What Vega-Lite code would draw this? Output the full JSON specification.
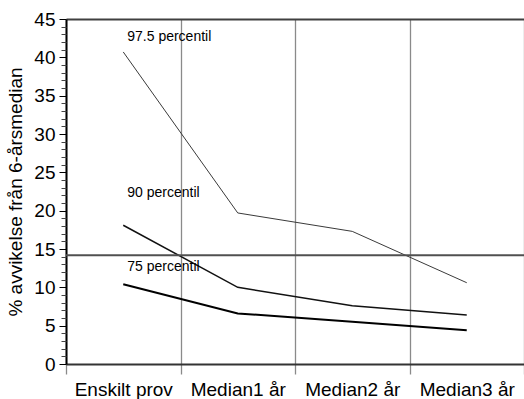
{
  "$schema": "https://vega.github.io/schema/vega-lite/v6.json",
  "width": 458,
  "height": 345,
  "autosize": {"type": "none"},
  "padding": {"left": 66, "top": 19, "right": 0, "bottom": 35},
  "background": "white",
  "config": {
    "font": "Liberation Sans",
    "view": {"stroke": null}
  },
  "datasets": {
    "percentiles": [
      {"serie": "97.5 percentil", "period": "Enskilt prov", "value": 40.7},
      {"serie": "97.5 percentil", "period": "Median1 år", "value": 19.7},
      {"serie": "97.5 percentil", "period": "Median2 år", "value": 17.3},
      {"serie": "97.5 percentil", "period": "Median3 år", "value": 10.6},
      {"serie": "90 percentil", "period": "Enskilt prov", "value": 18.1},
      {"serie": "90 percentil", "period": "Median1 år", "value": 10.0},
      {"serie": "90 percentil", "period": "Median2 år", "value": 7.6},
      {"serie": "90 percentil", "period": "Median3 år", "value": 6.4},
      {"serie": "75 percentil", "period": "Enskilt prov", "value": 10.4},
      {"serie": "75 percentil", "period": "Median1 år", "value": 6.6},
      {"serie": "75 percentil", "period": "Median2 år", "value": 5.5},
      {"serie": "75 percentil", "period": "Median3 år", "value": 4.4}
    ],
    "labels": [
      {"serie": "97.5 percentil", "period": "Enskilt prov", "value": 42.6},
      {"serie": "90 percentil", "period": "Enskilt prov", "value": 22.3},
      {"serie": "75 percentil", "period": "Enskilt prov", "value": 12.6}
    ],
    "limit": [{"value": 14.2}]
  },
  "layer": [
    {
      "data": {"name": "percentiles"},
      "mark": {"type": "line", "color": "black", "strokeJoin": "miter", "strokeCap": "butt"},
      "encoding": {
        "x": {
          "field": "period",
          "type": "nominal",
          "sort": ["Enskilt prov", "Median1 år", "Median2 år", "Median3 år"],
          "bandPosition": 0.5,
          "scale": {"type": "band", "paddingInner": 0, "paddingOuter": 0},
          "axis": {
            "orient": "bottom",
            "title": null,
            "tickBand": "extent",
            "grid": true,
            "gridColor": "#8a8a8a",
            "gridWidth": 1.3,
            "ticks": true,
            "tickColor": "#8a8a8a",
            "tickWidth": 1.3,
            "tickSize": 10,
            "domainColor": "#333333",
            "domainWidth": 2,
            "labelFont": "Liberation Sans",
            "labelFontSize": 19,
            "labelColor": "black",
            "labelPadding": 6,
            "labelAngle": 0
          }
        },
        "y": {
          "field": "value",
          "type": "quantitative",
          "scale": {"domain": [0, 45], "nice": false, "zero": true},
          "axis": {
            "title": "% avvikelse från 6-årsmedian",
            "titleFont": "Liberation Sans",
            "titleFontSize": 19,
            "titleFontWeight": "normal",
            "titleColor": "black",
            "titlePadding": 8,
            "values": [0, 5, 10, 15, 20, 25, 30, 35, 40, 45],
            "grid": false,
            "tickSize": 7,
            "tickColor": "black",
            "tickWidth": 1,
            "domainColor": "black",
            "domainWidth": 2,
            "labelFont": "Liberation Sans",
            "labelFontSize": 19,
            "labelColor": "black",
            "labelPadding": 4
          }
        },
        "detail": {"field": "serie"},
        "strokeWidth": {
          "field": "serie",
          "type": "nominal",
          "scale": {"domain": ["97.5 percentil", "90 percentil", "75 percentil"], "range": [1, 2, 4.5]},
          "legend": null
        },
        "color": {
          "field": "serie",
          "type": "nominal",
          "scale": {"domain": ["97.5 percentil", "90 percentil", "75 percentil"], "range": ["#3a3a3a", "#111111", "#000000"]},
          "legend": null
        }
      }
    },
    {
      "data": {"name": "percentiles"},
      "mark": {"type": "tick", "opacity": 0},
      "encoding": {
        "y": {
          "field": "value",
          "type": "quantitative",
          "axis": {
            "orient": "left",
            "title": null,
            "labels": false,
            "domain": false,
            "grid": false,
            "values": [1,2,3,4,6,7,8,9,11,12,13,14,16,17,18,19,21,22,23,24,26,27,28,29,31,32,33,34,36,37,38,39,41,42,43,44],
            "tickSize": 5,
            "tickColor": "#444444",
            "tickWidth": 1
          }
        }
      }
    },
    {
      "data": {"name": "limit"},
      "mark": {"type": "rule", "color": "#505050", "strokeWidth": 2},
      "encoding": {"y": {"field": "value", "type": "quantitative", "axis": null}}
    },
    {
      "data": {"name": "labels"},
      "mark": {"type": "text", "align": "left", "baseline": "middle", "dx": 4, "font": "Liberation Sans", "fontSize": 14, "color": "black"},
      "encoding": {
        "x": {
          "field": "period",
          "type": "nominal",
          "bandPosition": 0.5,
          "axis": {
            "orient": "top",
            "title": null,
            "labels": false,
            "ticks": false,
            "grid": false,
            "domainColor": "#404040",
            "domainWidth": 2
          }
        },
        "y": {"field": "value", "type": "quantitative", "axis": null},
        "text": {"field": "serie"}
      }
    }
  ],
  "resolve": {"axis": {"y": "independent", "x": "independent"}}
}
